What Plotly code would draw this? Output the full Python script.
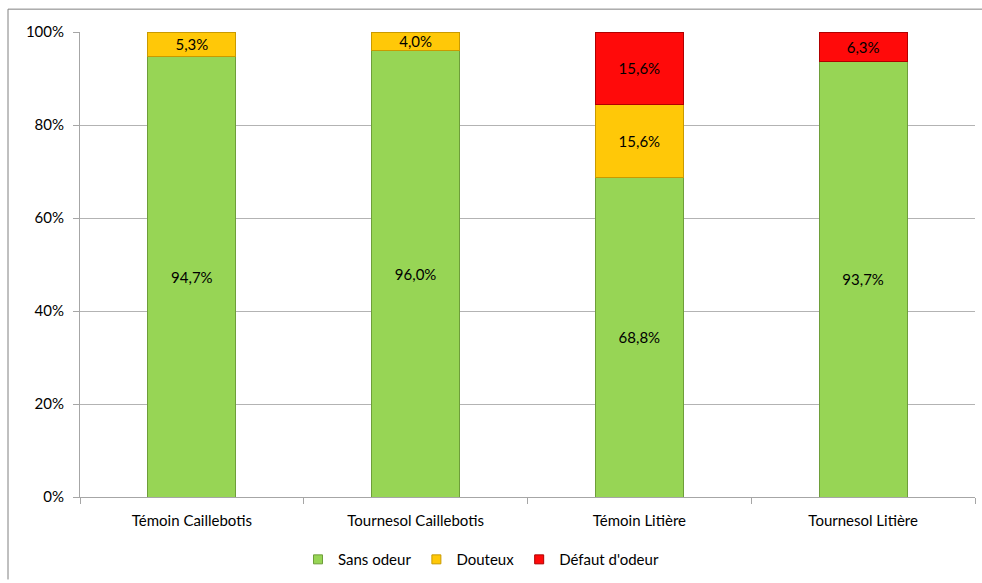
import plotly.graph_objects as go

categories = ["Témoin Caillebotis", "Tournesol Caillebotis", "Témoin Litière", "Tournesol Litière"]
sans_odeur = [94.7, 96.0, 68.8, 93.7]
douteux = [5.3, 4.0, 15.6, 0.0]
defaut = [0.0, 0.0, 15.6, 6.3]

series = [
    ("Sans odeur", sans_odeur, "#97D555", "#6E9E3A"),
    ("Douteux", douteux, "#FFC808", "#C99A00"),
    ("Défaut d'odeur", defaut, "#FF0A0A", "#B00000"),
]

def lab(v):
    return (f"{v:.1f}%".replace(".", ",")) if v > 0 else ""

fig = go.Figure()
for name, vals, col, lcol in series:
    fig.add_trace(go.Bar(
        name=name, x=categories, y=[v / 100 if v > 0 else None for v in vals],
        text=[lab(v) for v in vals], textposition="inside",
        insidetextanchor="middle", textangle=0, constraintext="none",
        textfont=dict(family="Lato", size=15, color="#000000"),
        marker=dict(color=col, line=dict(color=lcol, width=1)),
        hoverinfo="skip", showlegend=False,
    ))
for name, vals, col, lcol in series:
    fig.add_trace(go.Scatter(
        name=name, x=[categories[0]], y=[None], mode="markers",
        marker=dict(symbol="square", size=9, color=col, line=dict(color=lcol, width=1)),
        hoverinfo="skip", showlegend=True,
    ))

W, H = 982, 583
L, R, T, B = 80, 7, 32, 83
pw, ph = W - L - R, H - T - B

def px(x):
    return (x - L) / pw

def py(y):
    return (H - B - y) / ph

fig.update_layout(
    barmode="stack", bargap=0.607,
    width=W, height=H,
    margin=dict(l=L, r=R, t=T, b=B, pad=0),
    paper_bgcolor="white", plot_bgcolor="white",
    font=dict(family="Lato", size=15, color="#000000"),
    showlegend=True,
    legend=dict(orientation="h", x=px(481), y=py(563), xanchor="center", yanchor="middle",
                font=dict(family="Lato", size=15), itemwidth=30, traceorder="normal"),
    shapes=[
        dict(type="line", xref="paper", yref="paper", x0=px(8), x1=px(982), y0=py(9), y1=py(9),
             line=dict(color="#808080", width=1)),
        dict(type="line", xref="paper", yref="paper", x0=px(8), x1=px(8), y0=py(9), y1=py(583),
             line=dict(color="#808080", width=1)),
    ],
)
fig.update_yaxes(range=[0, 1], tickvals=[0, 0.2, 0.4, 0.6, 0.8, 1.0], tickformat=".0%",
                 showgrid=True, gridcolor="#B3B3B3", gridwidth=1,
                 showline=True, linecolor="#A6A6A6", linewidth=1,
                 ticks="outside", ticklen=6, tickcolor="#A6A6A6", ticklabelstandoff=6,
                 tickfont=dict(family="Lato", size=15, color="#000000"),
                 zeroline=False, fixedrange=True)
fig.update_xaxes(showline=True, linecolor="#A6A6A6", linewidth=1,
                 ticks="outside", tickson="boundaries", ticklen=6, tickcolor="#A6A6A6",
                 ticklabelstandoff=10,
                 tickfont=dict(family="Lato", size=15, color="#000000"),
                 fixedrange=True)

fig.write_html("out.html")
